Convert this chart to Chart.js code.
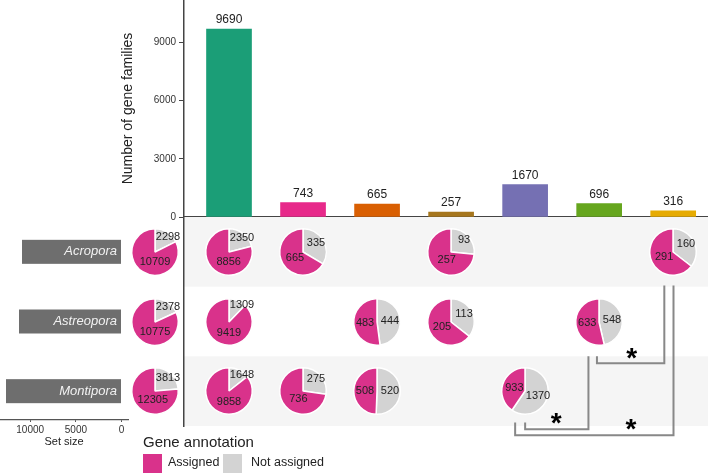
<!DOCTYPE html>
<html>
<head>
<meta charset="utf-8">
<script src="https://cdn.jsdelivr.net/npm/chart.js@4.4.1/dist/chart.umd.min.js"></script>
<style>
body { margin: 0; background: #fff; font-family: 'Liberation Sans', Arial, sans-serif; }
#wrap { position: relative; width: 708px; height: 473px; overflow: hidden; }
canvas { position: absolute; }
.leg { position: absolute; color: #222; white-space: nowrap; }
.sw { position: absolute; width: 19px; height: 19px; }
</style>
</head>
<body>
<div id="wrap">
  <canvas id="bars" width="708" height="221" style="left:0;top:0"></canvas>
  <canvas id="matrix" width="708" height="256" style="left:0;top:217px"></canvas>
  <canvas id="setsize" width="140" height="48" style="left:0;top:405px"></canvas>
  <div class="leg" style="left:143px;top:433px;font-size:15px;line-height:17px">Gene annotation</div>
  <div class="sw" style="left:143px;top:454px;background:#d9328b"></div>
  <div class="leg" style="left:168px;top:455px;font-size:12.5px;line-height:15px">Assigned</div>
  <div class="sw" style="left:223px;top:454px;background:#d3d3d3"></div>
  <div class="leg" style="left:251px;top:455px;font-size:12.5px;line-height:15px">Not assigned</div>
</div>
<script>
// intersections (columns), left to right
var intersections = ['Acropora & Astreopora & Montipora', 'Acropora & Montipora', 'Astreopora & Montipora',
  'Acropora & Astreopora', 'Montipora only', 'Astreopora only', 'Acropora only'];
var intersectionSize = [9690, 743, 665, 257, 1670, 696, 316];
var barColors = ['#1b9e77', '#e7298a', '#d95f02', '#a6761d', '#7570b3', '#66a61e', '#e6ab02'];

var species = ['Acropora', 'Astreopora', 'Montipora'];
var setAssigned = [10709, 10775, 12305];
var setNotAssigned = [2298, 2378, 3813];

// per species row, per intersection column (null = species not in that intersection)
var assigned = [
  [8856, 665, null, 257, null, null, 291],
  [9419, null, 483, 205, null, 633, null],
  [9858, 736, 508, null, 933, null, null]
];
var notAssigned = [
  [2350, 335, null, 93, null, null, 160],
  [1309, null, 444, 113, null, 548, null],
  [1648, 275, 520, null, 1370, null, null]
];

var yTicks = [0, 3000, 6000, 9000];
var setSizeTicks = [0, 5000, 10000];

// significance brackets: [x of left leg, x of right leg, top of left leg, top of right leg, bottom] in column/row units
var brackets = [
  [5.97, 6.88, 2.5, 1.485, 2.6],
  [5.0, 5.855, 3.45, 2.5, 3.547],
  [4.865, 7.004, 3.45, 1.485, 3.633]
];
var stars = [[6.44, 2.46], [5.42, 3.385], [6.43, 3.475]];

var MAGENTA = '#d9328b', GREY = '#d3d3d3';
var FONT = "'Liberation Sans', Arial, sans-serif";
var xRange = {min: 0.392, max: 7.47};
var plain = function(v) { return String(v); };

var barLabels = {
  id: 'barLabels',
  afterDatasetsDraw: function(chart) {
    var ctx = chart.ctx;
    ctx.save();
    ctx.font = '12px ' + FONT;
    ctx.fillStyle = '#222';
    ctx.textAlign = 'center';
    ctx.textBaseline = 'bottom';
    chart.getDatasetMeta(0).data.forEach(function(bar, i) {
      ctx.fillText(intersectionSize[i], bar.x, bar.y - 3);
    });
    ctx.restore();
  }
};

new Chart(document.getElementById('bars'), {
  type: 'bar',
  data: {
    datasets: [{
      data: intersectionSize.map(function(v, i) { return {x: i + 1, y: v}; }),
      backgroundColor: barColors,
      borderWidth: 0,
      barThickness: 45
    }]
  },
  options: {
    responsive: false,
    animation: false,
    layout: {padding: 0},
    plugins: {legend: {display: false}, tooltip: {enabled: false}},
    scales: {
      x: {
        type: 'linear', min: xRange.min, max: xRange.max, offset: false,
        grid: {display: false},
        ticks: {display: false},
        border: {display: true, color: '#444', width: 1.5},
        afterFit: function(s) { s.height = 4; s.paddingLeft = 0; s.paddingRight = 0; }
      },
      y: {
        min: 0, max: 11190,
        afterBuildTicks: function(s) { s.ticks = yTicks.map(function(v) { return {value: v}; }); },
        afterFit: function(s) { s.width = 184; s.paddingTop = 0; s.paddingBottom = 0; },
        grid: {drawOnChartArea: false, tickLength: 5, color: '#444', lineWidth: 1},
        border: {color: '#444', width: 1.5},
        ticks: {font: {size: 10, family: FONT}, color: '#333', padding: 3, callback: plain},
        title: {display: true, text: 'Number of gene families', font: {size: 14, family: FONT}, color: '#222', padding: {top: 119.6, bottom: 0}}
      }
    }
  },
  plugins: [barLabels]
});

var matrixDecor = {
  id: 'matrixDecor',
  beforeDraw: function(chart) {
    var ctx = chart.ctx, a = chart.chartArea, y = chart.scales.y;
    ctx.save();
    ctx.fillStyle = '#f5f5f5';
    [1, 3].forEach(function(r) {
      var t = y.getPixelForValue(r - 0.5), b = y.getPixelForValue(r + 0.5);
      ctx.fillRect(a.left, t, a.right - a.left, b - t);
    });
    ctx.restore();
  },
  afterDraw: function(chart) {
    var ctx = chart.ctx, x = chart.scales.x, y = chart.scales.y;
    var boxLeft = [22, 19, 6];
    ctx.save();
    species.forEach(function(name, i) {
      var cy = y.getPixelForValue(i + 1);
      ctx.fillStyle = '#6e6e6e';
      ctx.fillRect(boxLeft[i], cy - 12, 121 - boxLeft[i], 24);
      ctx.fillStyle = '#f2f2f2';
      ctx.font = 'italic 13px ' + FONT;
      ctx.textAlign = 'right';
      ctx.textBaseline = 'middle';
      ctx.fillText(name, 117, cy);
    });
    ctx.strokeStyle = '#888';
    ctx.lineWidth = 2;
    brackets.forEach(function(b) {
      ctx.beginPath();
      ctx.moveTo(x.getPixelForValue(b[0]), y.getPixelForValue(b[2]));
      ctx.lineTo(x.getPixelForValue(b[0]), y.getPixelForValue(b[4]));
      ctx.lineTo(x.getPixelForValue(b[1]), y.getPixelForValue(b[4]));
      ctx.lineTo(x.getPixelForValue(b[1]), y.getPixelForValue(b[3]));
      ctx.stroke();
    });
    ctx.fillStyle = '#000';
    ctx.font = 'bold 28px ' + FONT;
    ctx.textAlign = 'center';
    ctx.textBaseline = 'middle';
    stars.forEach(function(s) {
      ctx.fillText('*', x.getPixelForValue(s[0]), y.getPixelForValue(s[1]) + 6);
    });
    ctx.restore();
  }
};

var matrix = new Chart(document.getElementById('matrix'), {
  type: 'scatter',
  data: {datasets: [{data: []}]},
  options: {
    responsive: false,
    animation: false,
    layout: {padding: {top: 0, right: 0, left: 0, bottom: 47}},
    plugins: {legend: {display: false}, tooltip: {enabled: false}},
    scales: {
      x: {type: 'linear', min: xRange.min, max: xRange.max, display: false},
      y: {
        type: 'linear', min: 0.5, max: 3.5, reverse: true,
        grid: {display: false},
        ticks: {display: false},
        border: {display: true, color: '#444', width: 1.5},
        afterFit: function(s) { s.width = 184; s.paddingTop = 0; s.paddingBottom = 0; }
      }
    }
  },
  plugins: [matrixDecor]
});

new Chart(document.getElementById('setsize'), {
  type: 'scatter',
  data: {datasets: [{data: []}]},
  options: {
    responsive: false,
    animation: false,
    layout: {padding: {top: 0, right: 12, left: 0, bottom: 0}},
    plugins: {legend: {display: false}, tooltip: {enabled: false}},
    scales: {
      x: {
        type: 'linear', min: -700, max: 13300, reverse: true,
        afterBuildTicks: function(s) { s.ticks = setSizeTicks.map(function(v) { return {value: v}; }); },
        afterFit: function(s) { s.height = 33; s.paddingLeft = 0; s.paddingRight = 0; },
        grid: {drawOnChartArea: false, tickLength: 2, color: '#555'},
        border: {color: '#555', width: 1.2},
        ticks: {font: {size: 10, family: FONT}, color: '#333', padding: 2, maxRotation: 0, callback: plain},
        title: {display: true, text: 'Set size', font: {size: 11, family: FONT}, color: '#222', padding: {top: 0, bottom: 4.4}}
      },
      y: {display: false, min: 0, max: 1}
    }
  }
});

var pieLabels = {
  id: 'pieLabels',
  afterDatasetsDraw: function(chart) {
    var ctx = chart.ctx, vals = chart.data.datasets[0].data;
    ctx.save();
    ctx.font = '11px ' + FONT;
    ctx.fillStyle = '#222';
    ctx.textAlign = 'center';
    ctx.textBaseline = 'middle';
    chart.getDatasetMeta(0).data.forEach(function(arc, i) {
      var mid = (arc.startAngle + arc.endAngle) / 2;
      var s = Math.cos(mid), c = -Math.sin(mid); // sin/cos of angle from 12 o'clock
      var px, py;
      if (i === 0) {
        px = arc.x + 13;
        py = arc.y - 18 * c;
      } else {
        px = arc.x + Math.sign(s) * Math.max(0, Math.abs(s) - 0.6) * 30;
        py = arc.y - 12 * c;
      }
      ctx.fillText(vals[i], px, py);
    });
    ctx.restore();
  }
};

var wrap = document.getElementById('wrap');
function addPie(col, row, yes, no) {
  var cx = matrix.scales.x.getPixelForValue(col);
  var cy = matrix.scales.y.getPixelForValue(row) + 217;
  var cv = document.createElement('canvas');
  cv.width = 84; cv.height = 56;
  cv.style.left = (cx - 42) + 'px';
  cv.style.top = (cy - 28) + 'px';
  wrap.appendChild(cv);
  new Chart(cv, {
    type: 'pie',
    data: {
      labels: ['Not assigned', 'Assigned'],
      datasets: [{data: [no, yes], backgroundColor: [GREY, MAGENTA], borderColor: '#fff', borderWidth: 1.5}]
    },
    options: {
      responsive: false,
      animation: false,
      layout: {padding: {left: 18, right: 18, top: 4, bottom: 4}},
      plugins: {legend: {display: false}, tooltip: {enabled: false}}
    },
    plugins: [pieLabels]
  });
}

species.forEach(function(name, r) {
  addPie(0, r + 1, setAssigned[r], setNotAssigned[r]);
  assigned[r].forEach(function(v, c) {
    if (v !== null) addPie(c + 1, r + 1, v, notAssigned[r][c]);
  });
});
</script>
</body>
</html>
